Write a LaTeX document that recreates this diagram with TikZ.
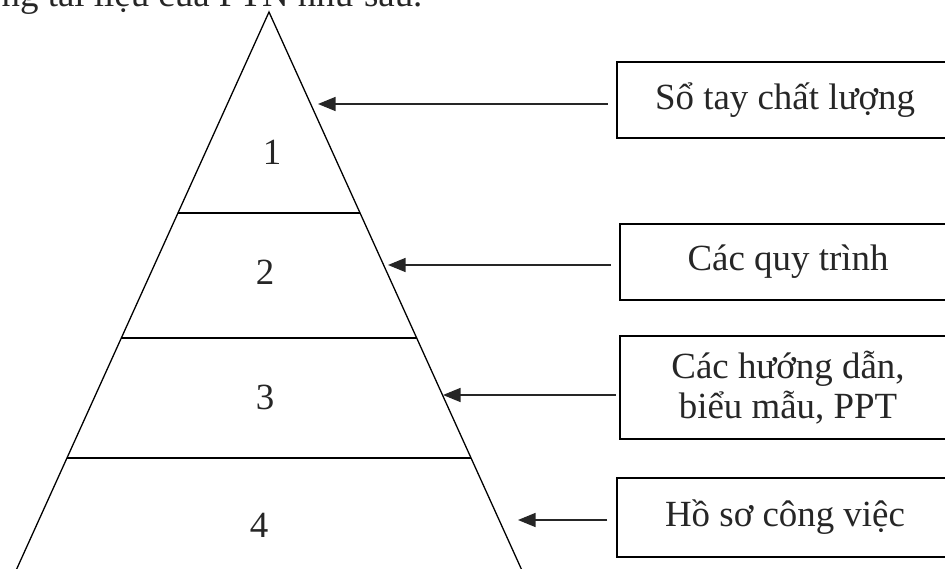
\documentclass[tikz,border=0pt]{standalone}
\usepackage{fontspec}
\setmainfont{Liberation Serif}
\usetikzlibrary{arrows.meta}
\begin{document}
\begin{tikzpicture}[x=0.03cm, y=-0.03cm, line width=1.1pt,
    txt/.style={font=\fontsize{31.5}{34}\selectfont, text=black!85},
    docbox/.style={txt, draw, line width=1.3pt, minimum width=10.08cm, align=center, inner sep=0pt},
    tip/.style={-{Triangle[length=15pt,width=12pt]}, draw=black!85, fill=black!80}]
    \useasboundingbox (0,0) rectangle (945,569);

    %heading (cut off at the top)
    \node[txt, anchor=base west, inner sep=0pt] (intro) at (1,7) {ng tài liệu của PTN như sau.};

    %pyramid
    \coordinate (apex) at (269,12);
    \draw (11.7,580) -- (apex) -- (526.3,580);
    \foreach \y in {213,338,458}{
        \pgfmathsetmacro\dx{0.453*(\y-12)}
        \draw (269-\dx,\y) -- (269+\dx,\y);
    }

    %levels
    \node[txt] (n1) at (272,152) {1};
    \node[txt] (n2) at (265,272) {2};
    \node[txt] (n3) at (265,397) {3};
    \node[txt] (n4) at (259,525) {4};

    %boxes
    \node[docbox, minimum height=2.28cm] (b1) at (785,100) {Sổ tay chất lượng};
    \node[docbox, minimum height=2.28cm] (b2) at (788,262) {Các quy trình};
    \node[docbox, minimum height=3.09cm] (b3) at (788,387.5) {Các hướng dẫn,\\biểu mẫu, PPT};
    \node[docbox, minimum height=2.37cm] (b4) at (785,517.5) {Hồ sơ công việc};

    %arrows
    \coordinate (t1) at (318,104);
    \coordinate (t2) at (388,265);
    \coordinate (t3) at (443,395);
    \coordinate (t4) at (518,520);
    \draw[tip] ([xshift=-0.25cm]b1.west |- t1) -- (t1);
    \draw[tip] ([xshift=-0.25cm]b2.west |- t2) -- (t2);
    \draw[tip] ([xshift=-0.1cm]b3.west |- t3) -- (t3);
    \draw[tip] ([xshift=-0.27cm]b4.west |- t4) -- (t4);
\end{tikzpicture}
\end{document}
